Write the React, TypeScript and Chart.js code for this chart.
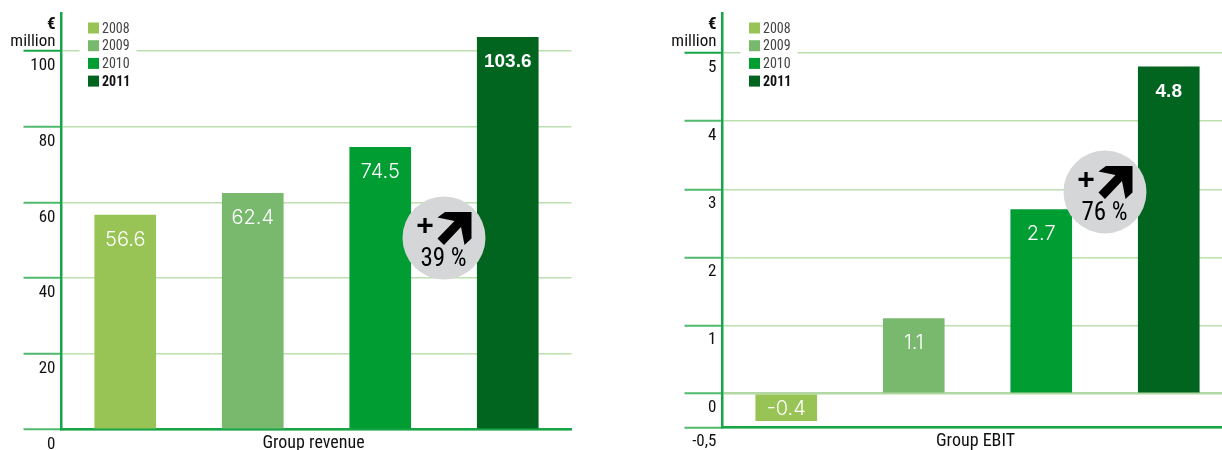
import React, { useEffect, useRef } from "react";
import { Chart, registerables } from "chart.js";

Chart.register(...registerables);

const years = ["2008", "2009", "2010", "2011"];
const yearColors = ["#98c355", "#78b96e", "#009e32", "#02651f"];
const revenueValues = [56.6, 62.4, 74.5, 103.6];
const ebitValues = [-0.4, 1.1, 2.7, 4.8];
const revenueTicks = [0, 20, 40, 60, 80, 100];
const revenueTickLabels = ["0", "20", "40", "60", "80", "100"];
const ebitTicks = [-0.5, 0, 1, 2, 3, 4, 5];
const ebitTickLabels = ["-0,5", "0", "1", "2", "3", "4", "5"];
const unitLines = ["€", "million"];

const NARROW = '"Roboto Condensed", "Liberation Sans", sans-serif';
const PLAIN = '"Liberation Sans", sans-serif';
const THIN = 'Inter, "Liberation Sans", sans-serif';
const AXIS_GREEN = "#17a647";
const TICK_GREEN = "#4fb96c";
const GRID_GREEN = "#bcdfb0";
const ZERO_GREEN = "#b2d8a4";
const BADGE_GREY = "#d5d6d8";

// Outline of the bold up-right arrow, relative to the badge centre.
const ARROW_SHAPE = [
  [1, -26], [27.5, -26], [27.5, 0.5], [20.5, 7], [17, -11],
  [0, 7], [-6.5, 0.5], [10.5, -17], [-6.5, -20.5],
];

type Panel = {
  title: string;
  titleShift: number;
  titleY: number;
  values: number[];
  ticks: number[];
  tickLabels: string[];
  min: number;
  max: number;
  badge: { text: string; index: number; value: number };
  padRight: number;
  bottomBand: number;
  width: number;
  labelOffset: number;
};

const revenuePanel: Panel = {
  title: "Group revenue",
  titleShift: -3,
  titleY: 443.5,
  values: revenueValues,
  ticks: revenueTicks,
  tickLabels: revenueTickLabels,
  min: 0,
  max: 110,
  badge: { text: "39 %", index: 2.5, value: 50.6 },
  padRight: 28.5,
  bottomBand: 20.5,
  width: 600,
  labelOffset: 15,
};

const ebitPanel: Panel = {
  title: "Group EBIT",
  titleShift: -2,
  titleY: 441.5,
  values: ebitValues,
  ticks: ebitTicks,
  tickLabels: ebitTickLabels,
  min: -0.5,
  max: 5.59,
  badge: { text: "76 %", index: 2.5, value: 2.96 },
  padRight: 38.5,
  bottomBand: 22.5,
  width: 610,
  labelOffset: 14.5,
};

function annotations(panel: Panel) {
  return {
    id: "panelAnnotations",
    afterDraw(chart: any) {
      const { ctx, scales } = chart;
      const axisX = scales.y.right;
      ctx.save();

      // Unit caption over the value axis
      ctx.textAlign = "right";
      ctx.textBaseline = "middle";
      ctx.fillStyle = "#111";
      ctx.font = `bold 17px ${NARROW}`;
      ctx.fillText(unitLines[0], axisX - 6, 24.5);
      ctx.font = `17px ${NARROW}`;
      ctx.fillText(unitLines[1], axisX - 6, 42);

      // Category axis caption
      ctx.textAlign = "center";
      ctx.font = `18px ${NARROW}`;
      ctx.fillText(panel.title, (scales.x.left + scales.x.right) / 2 + panel.titleShift, panel.titleY);

      // Bar value labels
      const bars = chart.getDatasetMeta(0).data;
      bars.forEach((bar: any, i: number) => {
        const value = panel.values[i];
        const latest = i === years.length - 1;
        ctx.fillStyle = "#fff";
        ctx.font = latest ? `bold 19px ${PLAIN}` : `300 20px ${THIN}`;
        const y = value < 0 ? (bar.y + bar.base) / 2 + 1.5 : bar.y + 24.5;
        ctx.fillText(String(value), bar.x, y);
      });

      // Legend block, on a white patch that interrupts the top grid line
      const legendX = axisX + 26.5;
      ctx.fillStyle = "#fff";
      ctx.fillRect(axisX + 18, 20, 57, 70);
      ctx.textAlign = "left";
      years.forEach((year, i) => {
        const y = 28 + i * 17.7;
        ctx.fillStyle = yearColors[i];
        ctx.fillRect(legendX, y - 5.5, 11, 11);
        const latest = i === years.length - 1;
        ctx.fillStyle = latest ? "#111" : "#444";
        ctx.font = `${latest ? "bold " : ""}14px ${NARROW}`;
        ctx.fillText(year, legendX + 14, y + 1);
      });

      // Growth badge
      const cx = scales.x.getPixelForValue(panel.badge.index);
      const cy = scales.y.getPixelForValue(panel.badge.value);
      ctx.fillStyle = BADGE_GREY;
      ctx.beginPath();
      ctx.arc(cx, cy, 41.5, 0, Math.PI * 2);
      ctx.fill();
      ctx.fillStyle = "#000";
      ctx.beginPath();
      ARROW_SHAPE.forEach(([dx, dy], i) => {
        if (i === 0) ctx.moveTo(cx + dx, cy + dy);
        else ctx.lineTo(cx + dx, cy + dy);
      });
      ctx.closePath();
      ctx.fill();
      ctx.textAlign = "center";
      ctx.font = `bold 30px ${PLAIN}`;
      ctx.fillText("+", cx - 19, cy - 11);
      ctx.font = `25px ${NARROW}`;
      ctx.fillText(panel.badge.text, cx - 0.5, cy + 21.5);

      ctx.restore();
    },
  };
}

function buildChart(canvas: HTMLCanvasElement, panel: Panel) {
  const topTick = panel.ticks[panel.ticks.length - 1];
  return new Chart(canvas, {
    type: "bar",
    data: {
      labels: years,
      datasets: [
        {
          data: panel.values,
          backgroundColor: yearColors,
          barThickness: 61,
          borderWidth: 0,
        },
      ],
    },
    plugins: [annotations(panel)],
    options: {
      animation: false,
      responsive: false,
      maintainAspectRatio: false,
      layout: { padding: { top: 13, right: panel.padRight, left: 0, bottom: 0 } },
      plugins: { legend: { display: false }, tooltip: { enabled: false } },
      scales: {
        x: {
          grid: { display: false },
          border: { color: AXIS_GREEN, width: 2.5 },
          ticks: { display: false },
          afterFit(scale: any) {
            scale.height = panel.bottomBand;
          },
        },
        y: {
          min: panel.min,
          max: panel.max,
          afterBuildTicks(scale: any) {
            scale.ticks = panel.ticks.map((value) => ({ value }));
          },
          afterFit(scale: any) {
            scale.width = 61.5;
          },
          border: { color: AXIS_GREEN, width: 2.5 },
          grid: {
            color: (c: any) => (c.tick?.value === 0 ? ZERO_GREEN : GRID_GREEN),
            lineWidth: (c: any) => (c.tick?.value === 0 ? 2.5 : 1.5),
            tickColor: (c: any) => (c.tick?.value === topTick ? AXIS_GREEN : TICK_GREEN),
            tickWidth: 2,
            tickLength: 38,
          },
          ticks: {
            color: "#111",
            font: { family: NARROW, size: 17 },
            padding: -32,
            labelOffset: panel.labelOffset,
            callback: (value: any) => panel.tickLabels[panel.ticks.indexOf(value)] ?? "",
          },
        },
      },
    } as any,
  });
}

export default function App() {
  const leftRef = useRef<HTMLCanvasElement>(null);
  const rightRef = useRef<HTMLCanvasElement>(null);

  useEffect(() => {
    const left = buildChart(leftRef.current!, revenuePanel);
    const right = buildChart(rightRef.current!, ebitPanel);
    return () => {
      left.destroy();
      right.destroy();
    };
  }, []);

  return (
    <div style={{ position: "absolute", left: 0, top: 0, width: 1222, height: 450, overflow: "hidden", background: "#fff" }}>
      <canvas ref={leftRef} width={revenuePanel.width} height={450} style={{ position: "absolute", left: 0, top: 0 }} />
      <canvas ref={rightRef} width={ebitPanel.width} height={450} style={{ position: "absolute", left: 661, top: 0 }} />
    </div>
  );
}
